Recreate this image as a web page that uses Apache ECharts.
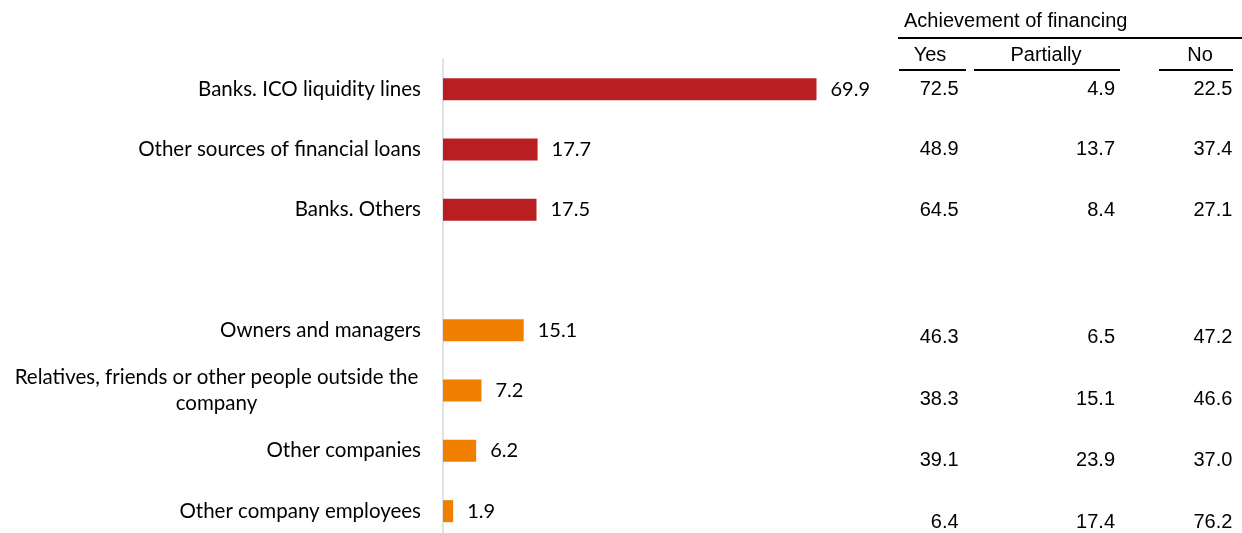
<!DOCTYPE html>
<html><head><meta charset="utf-8">
<script src="https://cdn.jsdelivr.net/npm/echarts@6/dist/echarts.min.js"></script>
<style>html,body{margin:0;padding:0;background:#fff;overflow:hidden}#c{width:1242px;height:545px}</style>
</head><body><div id="c"></div>
<script>
const categories = ['Banks. ICO liquidity lines','Other sources of financial loans','Banks. Others','','Owners and managers','Relatives, friends or other people outside the\ncompany','Other companies','Other company employees'];
const shares = [69.9,17.7,17.5,null,15.1,7.2,6.2,1.9];
const groups = ['bank','bank','bank',null,'other','other','other','other'];
const tableTitle = 'Achievement of financing';
const tableColumns = ['Yes','Partially','No'];
const yesValues = [72.5,48.9,64.5,null,46.3,38.3,39.1,6.4];
const partialValues = [4.9,13.7,8.4,null,6.5,15.1,23.9,17.4];
const noValues = [22.5,37.4,27.1,null,47.2,46.6,37.0,76.2];

const groupColors = {bank:'#b91f22', other:'#f07f00'};
const catFont = 'Lato, "Noto Sans", sans-serif';
const tabFont = '"Liberation Sans", Arial, sans-serif';
const chart = echarts.init(document.getElementById('c'), null, {renderer:'canvas'});

const colDx = [35, 64, 54];
const rowDy = [0, 0, 1, 0, 7, 9, 10, 11];
function tableSeries(vals, col){
  return {
    type:'scatter', xAxisIndex:1, yAxisIndex:1, symbol:'circle', symbolSize:1,
    itemStyle:{color:'rgba(0,0,0,0)', opacity:1}, silent:true,
    emphasis:{disabled:true},
    data: vals.map((v,i)=> v==null ? null : {value:[col, i, v], label:{offset:[colDx[col], rowDy[i]]}}),
    label:{show:true, position:'inside', align:'right', verticalAlign:'middle', opacity:1,
      formatter:p=>p.value[2].toFixed(1), fontFamily:tabFont, fontSize:20, color:'#000',
      textBorderWidth:0}
  };
}
const hdr = (t,x)=>({type:'text', x:x, y:55, style:{text:t, font:'20px '+tabFont, fill:'#000', align:'center', verticalAlign:'middle'}});
const rule = (x1,x2,y)=>({type:'line', shape:{x1:x1,y1:y,x2:x2,y2:y}, style:{stroke:'#000', lineWidth:2}});

const option = {
  animation:false,
  grid:[
    {left:443, top:59, height:482.3, width:80*373.5/69.9},
    {left:860, right:0, top:59, height:482.3}
  ],
  xAxis:[
    {type:'value', min:0, max:80, show:false, gridIndex:0},
    {type:'category', data:tableColumns, show:false, gridIndex:1}
  ],
  yAxis:[
    {type:'category', data:categories, inverse:true, gridIndex:0,
     axisLine:{show:true, lineStyle:{color:'#d9d9d9', width:1.5}},
     axisTick:{show:false}, splitLine:{show:false},
     axisLabel:{margin:22, fontFamily:catFont, fontSize:20.5, color:'#000', lineHeight:26,
       formatter:v=> v.indexOf('\n')>=0 ? '{w|'+v+'}' : v,
       rich:{w:{width:409, align:'center', fontFamily:catFont, fontSize:20.5, color:'#000', lineHeight:26}}}},
    {type:'category', data:categories, inverse:true, gridIndex:1, show:false}
  ],
  series:[
    {type:'bar', xAxisIndex:0, yAxisIndex:0, barWidth:22,
     data: shares.map((v,i)=> v==null ? null : {value:v, itemStyle:{color:groupColors[groups[i]]}}),
     label:{show:true, position:'right', distance:14, formatter:p=>p.value.toFixed(1),
       fontFamily:catFont, fontSize:20, color:'#000'}},
    tableSeries(yesValues,0), tableSeries(partialValues,1), tableSeries(noValues,2)
  ],
  graphic:[
    {type:'text', x:904, y:21, style:{text:tableTitle, font:'20px '+tabFont, fill:'#000', verticalAlign:'middle'}},
    rule(898,1242,38),
    hdr(tableColumns[0],930), hdr(tableColumns[1],1046), hdr(tableColumns[2],1200),
    rule(899,966,70), rule(974,1120,70), rule(1159,1233,70)
  ]
};
chart.setOption(option);
</script></body></html>
